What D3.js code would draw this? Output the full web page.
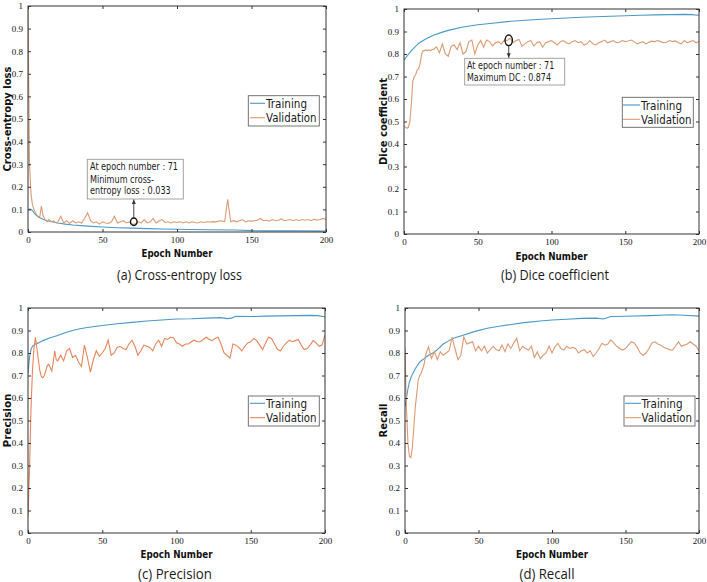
<!DOCTYPE html>
<html><head><meta charset="utf-8">
<script src="https://cdn.jsdelivr.net/npm/d3@7"></script>
<style>body{margin:0;background:#fff}svg{display:block}</style>
</head><body>
<svg id="c" width="707" height="582"></svg>
<script>
// ---------------- DATA ----------------
const xTicks = [0, 50, 100, 150, 200];
const yTicks = [0, 0.1, 0.2, 0.3, 0.4, 0.5, 0.6, 0.7, 0.8, 0.9, 1];
const yTickLabels = ["0","0.1","0.2","0.3","0.4","0.5","0.6","0.7","0.8","0.9","1"];
const seriesNames = ["Training", "Validation"];

const valEpochs = [0,1,2,3,4,5,6,7,8,9,10,11,12,13,14,15,16,17,18,19,20,
 22,24,26,28,30,32,34,36,38,40,42,44,46,48,50,52,54,56,58,60,
 62,64,66,68,70,72,74,76,78,80,82,84,86,88,90,92,94,96,98,100,
 102,104,106,108,110,112,114,116,118,120,122,124,126,128,130,132,134,136,138,140,
 142,144,146,148,150,152,154,156,158,160,162,164,166,168,170,172,174,176,178,180,
 182,184,186,188,190,192,194,196,198,200];

// (a) Cross-entropy loss
const lossTrainEpochs = [0,2,3,4,6,8,10,13,16,20,25,30,40,50,60,70,80,90,100,120,140,150,160,180,200];
const lossTrain = [0.1,0.1,0.095,0.085,0.072,0.063,0.056,0.05,0.045,0.04,0.035,0.031,0.026,0.022,0.019,0.017,0.015,0.013,0.012,0.01,0.009,0.006,0.005,0.005,0.004];
const lossVal = [1.0,0.30,0.17,0.12,0.10,0.085,0.075,0.065,0.07,0.115,0.075,0.06,0.05,0.045,0.055,0.05,0.045,0.05,0.045,0.04,0.045,
 0.07,0.04,0.05,0.038,0.05,0.04,0.045,0.04,0.06,0.085,
 0.05,0.04,0.045,0.035,0.045,0.04,0.038,0.045,0.07,0.04,
 0.045,0.05,0.04,0.045,0.034,0.036,0.045,0.04,0.055,0.04,
 0.045,0.06,0.04,0.05,0.055,0.042,0.045,0.04,0.045,0.042,
 0.045,0.04,0.045,0.04,0.045,0.042,0.04,0.045,0.042,0.045,
 0.044,0.046,0.045,0.048,0.05,0.045,0.145,0.045,0.05,0.045,
 0.05,0.055,0.045,0.05,0.048,0.05,0.052,0.06,0.05,0.052,
 0.048,0.055,0.05,0.052,0.058,0.05,0.052,0.055,0.05,0.055,
 0.05,0.055,0.052,0.055,0.05,0.057,0.052,0.055,0.06,0.055];

// (b) Dice coefficient
const diceTrainEpochs = [0,2,5,8,10,15,20,25,30,40,50,60,70,80,90,100,120,140,160,170,180,190,195,200];
const diceTrain = [0.773,0.79,0.815,0.835,0.848,0.868,0.883,0.895,0.905,0.92,0.93,0.937,0.944,0.949,0.953,0.957,0.963,0.968,0.972,0.974,0.975,0.976,0.975,0.972];
const diceVal = [0.48,0.475,0.47,0.475,0.50,0.58,0.68,0.70,0.71,0.73,0.735,0.76,0.80,0.815,0.815,0.818,0.815,0.818,0.815,0.82,0.82,
 0.832,0.805,0.845,0.80,0.79,0.835,0.84,0.82,0.85,0.80,
 0.81,0.855,0.862,0.80,0.84,0.86,0.83,0.862,0.855,0.836,
 0.85,0.855,0.845,0.862,0.86,0.87,0.85,0.86,0.865,0.835,
 0.845,0.855,0.86,0.835,0.85,0.855,0.83,0.85,0.855,0.86,
 0.85,0.84,0.855,0.86,0.85,0.845,0.855,0.86,0.85,0.855,
 0.84,0.845,0.86,0.845,0.84,0.85,0.855,0.862,0.85,0.855,
 0.86,0.85,0.852,0.86,0.855,0.858,0.862,0.855,0.845,0.85,
 0.855,0.845,0.852,0.857,0.855,0.86,0.855,0.85,0.852,0.86,
 0.855,0.858,0.85,0.845,0.86,0.85,0.855,0.86,0.85,0.856];

// (c) Precision
const precTrainEpochs = [0,1,2,3,5,7,10,15,20,25,30,35,40,50,60,70,80,90,100,110,120,130,134,137,140,150,160,170,180,190,195,200];
const precTrain = [0.71,0.78,0.815,0.83,0.84,0.845,0.855,0.868,0.878,0.89,0.9,0.908,0.913,0.922,0.93,0.936,0.942,0.947,0.951,0.952,0.955,0.957,0.953,0.955,0.963,0.962,0.964,0.965,0.966,0.967,0.966,0.961];
const precVal = [0.07,0.28,0.55,0.72,0.82,0.87,0.82,0.77,0.72,0.695,0.69,0.70,0.72,0.745,0.75,0.735,0.72,0.76,0.81,0.77,0.765,
 0.79,0.765,0.81,0.82,0.78,0.79,0.76,0.74,0.835,0.78,
 0.715,0.77,0.81,0.785,0.80,0.82,0.857,0.79,0.80,0.825,
 0.83,0.82,0.815,0.84,0.857,0.83,0.79,0.81,0.835,0.83,
 0.825,0.81,0.84,0.857,0.83,0.865,0.86,0.87,0.868,0.845,
 0.84,0.83,0.84,0.84,0.85,0.857,0.85,0.85,0.86,0.87,
 0.86,0.855,0.865,0.87,0.84,0.80,0.79,0.777,0.84,0.835,
 0.825,0.81,0.83,0.845,0.85,0.865,0.855,0.835,0.815,0.845,
 0.87,0.865,0.84,0.815,0.81,0.83,0.845,0.857,0.85,0.855,
 0.86,0.835,0.815,0.82,0.835,0.855,0.845,0.83,0.835,0.88];

// (d) Recall
const recTrainEpochs = [0,1,2,3,4,5,7,10,13,16,19,22,26,30,33,40,47,56,65,81,92,100,110,120,130,135,140,150,166,182,190,200];
const recTrain = [0.56,0.6,0.64,0.67,0.69,0.705,0.73,0.76,0.775,0.79,0.80,0.815,0.84,0.855,0.866,0.88,0.895,0.91,0.92,0.935,0.942,0.947,0.95,0.954,0.955,0.951,0.962,0.963,0.966,0.97,0.968,0.964];
const recVal = [0.82,0.55,0.40,0.34,0.335,0.38,0.47,0.56,0.62,0.68,0.70,0.71,0.73,0.75,0.79,0.81,0.828,0.80,0.776,0.79,0.806,
 0.77,0.805,0.79,0.80,0.81,0.87,0.82,0.77,0.79,0.872,
 0.84,0.845,0.85,0.81,0.83,0.81,0.83,0.80,0.815,0.83,
 0.815,0.81,0.835,0.806,0.84,0.82,0.845,0.865,0.81,0.83,
 0.82,0.813,0.83,0.78,0.805,0.775,0.79,0.80,0.83,0.80,
 0.828,0.843,0.82,0.813,0.83,0.82,0.825,0.82,0.80,0.81,
 0.815,0.80,0.81,0.784,0.80,0.82,0.843,0.835,0.84,0.858,
 0.845,0.83,0.82,0.813,0.82,0.835,0.85,0.845,0.825,0.80,
 0.79,0.80,0.82,0.845,0.85,0.84,0.835,0.825,0.82,0.815,
 0.813,0.83,0.85,0.83,0.835,0.84,0.85,0.84,0.83,0.81];

// annotations
const lossBest = {epoch: 71, value: 0.033, lines: ["At epoch number : 71", "Minimum cross-", "entropy loss : 0.033"]};
const diceBest = {epoch: 71, value: 0.874, lines: ["At epoch number : 71", "Maximum DC : 0.874"]};

// ---------------- LAYOUT ----------------
const TRAIN_COLOR = "#4a98c8";
const panels = [
 {id:"a", x0:28, x1:326, y0:6, y1:232, tE:lossTrainEpochs, tV:lossTrain, vV:lossVal, vColor:"#dc9a72",
  ylab:"Cross-entropy loss", ylx:10.5, ylw:105, xly:257, xlw:71, cap:"(a) Cross-entropy loss", capx:179.5, capy:280, capw:125,
  leg:{x:248.3, y:95.7, w:71, h:30.3, l0:250, l1:265, tx:266, r1:103.3, r2:117.7},
  ann:{best:lossBest, bx:87.3, by:159.3, bw:96, bh:39.7, tx:90, ty:[166.7,179,190], tw:[88,64,80.7], cdy:-2.8, rx:3.3, ry:3.7, dir:"up", a0:218, a1:199.5}},
 {id:"b", x0:404, x1:699, y0:9, y1:234, tE:diceTrainEpochs, tV:diceTrain, vV:diceVal, vColor:"#dc9a72",
  ylab:"Dice coefficient", ylx:386.5, ylw:87, xly:260, xlw:72, cap:"(b) Dice coefficient", capx:555, capy:280, capw:108,
  leg:{x:622.3, y:97.3, w:71, h:30, l0:623, l1:640, tx:641, r1:105, r2:119.3},
  ann:{best:diceBest, bx:464.7, by:58.3, bw:100, bh:26.7, tx:467, ty:[65.7,77.7], tw:[87.3,84], cdy:3, rx:3.7, ry:5.3, dir:"down", a0:45.8, a1:57.8}},
 {id:"c", x0:28, x1:325, y0:308, y1:533, tE:precTrainEpochs, tV:precTrain, vV:precVal, vColor:"#e8845a",
  ylab:"Precision", ylx:11, ylw:54, xly:558, xlw:72, cap:"(c) Precision", capx:175, capy:579, capw:74,
  leg:{x:248.3, y:396, w:71, h:30, l0:250, l1:265, tx:266, r1:403.3, r2:417.7}},
 {id:"d", x0:405, x1:699, y0:308, y1:533, tE:recTrainEpochs, tV:recTrain, vV:recVal, vColor:"#dc9a72",
  ylab:"Recall", ylx:387, ylw:34, xly:558, xlw:72, cap:"(d) Recall", capx:547, capy:579, capw:55,
  leg:{x:624, y:396, w:71, h:30, l0:625, l1:641, tx:641.5, r1:403.3, r2:417.7}}
];

const svg = d3.select("#c");
const defs = svg.append("defs");

function text(g, x, y, s, o) {
  const t = g.append("text").attr("x", x).attr("y", y).text(s)
    .attr("font-family", o.family || "'DejaVu Sans', sans-serif")
    .attr("font-size", o.size || 10)
    .attr("fill", o.fill || "#111");
  if (o.weight) t.attr("font-weight", o.weight);
  if (o.anchor) t.attr("text-anchor", o.anchor);
  if (o.w) t.attr("textLength", o.w).attr("lengthAdjust", "spacingAndGlyphs");
  if (o.transform) t.attr("transform", o.transform);
  return t;
}

panels.forEach(p => {
  const g = svg.append("g");
  const x = d3.scaleLinear().domain([0, 200]).range([p.x0, p.x1]);
  const y = d3.scaleLinear().domain([0, 1]).range([p.y1, p.y0]);

  defs.append("clipPath").attr("id", "clip" + p.id).append("rect")
    .attr("x", p.x0).attr("y", p.y0 - 1).attr("width", p.x1 - p.x0).attr("height", p.y1 - p.y0 + 1);

  // lines
  const lineT = d3.line().x((d, i) => x(p.tE[i])).y(d => y(d));
  const lineV = d3.line().x((d, i) => x(valEpochs[i])).y(d => y(d));
  const lg = g.append("g").attr("clip-path", `url(#clip${p.id})`);
  lg.append("path").datum(p.tV).attr("d", lineT).attr("fill", "none").attr("stroke", TRAIN_COLOR).attr("stroke-width", 1.1);
  lg.append("path").datum(p.vV).attr("d", lineV).attr("fill", "none").attr("stroke", p.vColor).attr("stroke-width", 1.1);

  // axes
  const tickFont = g => g.selectAll("text").attr("font-family", "'Liberation Serif', serif").attr("font-size", 9).attr("fill", "#111");
  const styleAx = g => { g.select(".domain").remove(); g.selectAll("line").attr("stroke", "#333"); };
  g.append("g").attr("transform", `translate(0,${p.y1})`)
    .call(d3.axisBottom(x).tickValues(xTicks).tickSizeInner(-3).tickSizeOuter(0).tickPadding(5).tickFormat(d3.format("d")))
    .call(styleAx).call(tickFont);
  g.append("g").attr("transform", `translate(0,${p.y0})`)
    .call(d3.axisTop(x).tickValues(xTicks).tickSizeInner(-3).tickSizeOuter(0).tickFormat(""))
    .call(styleAx);
  g.append("g").attr("transform", `translate(${p.x0},0)`)
    .call(d3.axisLeft(y).tickValues(yTicks).tickSizeInner(-3).tickSizeOuter(0).tickPadding(5).tickFormat((d, i) => yTickLabels[i]))
    .call(styleAx).call(tickFont);
  g.append("g").attr("transform", `translate(${p.x1},0)`)
    .call(d3.axisRight(y).tickValues(yTicks).tickSizeInner(-3).tickSizeOuter(0).tickFormat(""))
    .call(styleAx);
  g.append("rect").attr("x", p.x0).attr("y", p.y0).attr("width", p.x1 - p.x0).attr("height", p.y1 - p.y0)
    .attr("fill", "none").attr("stroke", "#333").attr("stroke-width", 1);

  // labels
  const cy = (p.y0 + p.y1) / 2;
  text(g, 0, 0, p.ylab, {weight: "bold", size: 10, anchor: "middle", w: p.ylw, transform: `translate(${p.ylx},${cy}) rotate(-90)`});
  text(g, (p.x0 + p.x1) / 2, p.xly, "Epoch Number", {weight: "bold", size: 11, anchor: "middle", w: p.xlw});
  text(g, p.capx, p.capy, p.cap, {family: "'Open Sans', sans-serif", size: 14, anchor: "middle", w: p.capw, fill: "#1a1a1a"});

  // legend
  const L = p.leg;
  g.append("rect").attr("x", L.x).attr("y", L.y).attr("width", L.w).attr("height", L.h)
    .attr("fill", "#fff").attr("stroke", "#666").attr("stroke-width", 0.9);
  [[L.r1, TRAIN_COLOR, 41], [L.r2, p.vColor, 50.5]].forEach((r, i) => {
    g.append("line").attr("x1", L.l0).attr("x2", L.l1).attr("y1", r[0]).attr("y2", r[0]).attr("stroke", r[1]).attr("stroke-width", 1.1);
    text(g, L.tx, r[0] + 4.5, seriesNames[i], {size: 12.5, w: r[2], fill: "#1a1a1a"});
  });

  // annotation
  if (p.ann) {
    const A = p.ann;
    g.append("rect").attr("x", A.bx).attr("y", A.by).attr("width", A.bw).attr("height", A.bh)
      .attr("fill", "#fff").attr("stroke", "#999").attr("stroke-width", 0.9);
    A.best.lines.forEach((s, i) => text(g, A.tx, A.ty[i] + 3.6, s, {size: 10, w: A.tw[i], fill: "#1a1a1a"}));
    const cx = x(A.best.epoch), ccy = y(A.best.value) + A.cdy;
    g.append("ellipse").attr("cx", cx).attr("cy", ccy).attr("rx", A.rx).attr("ry", A.ry)
      .attr("fill", "none").attr("stroke", "#111").attr("stroke-width", 1.4);
    g.append("line").attr("x1", cx).attr("x2", cx).attr("y1", A.a0).attr("y2", A.a1).attr("stroke", "#333").attr("stroke-width", 0.9);
    const tip = A.a1, s = A.dir === "up" ? 1 : -1;
    g.append("path").attr("d", `M${cx},${tip} L${cx - 2},${tip + 4.5 * s} L${cx + 2},${tip + 4.5 * s} Z`).attr("fill", "#333");
  }
});
</script>
</body></html>
